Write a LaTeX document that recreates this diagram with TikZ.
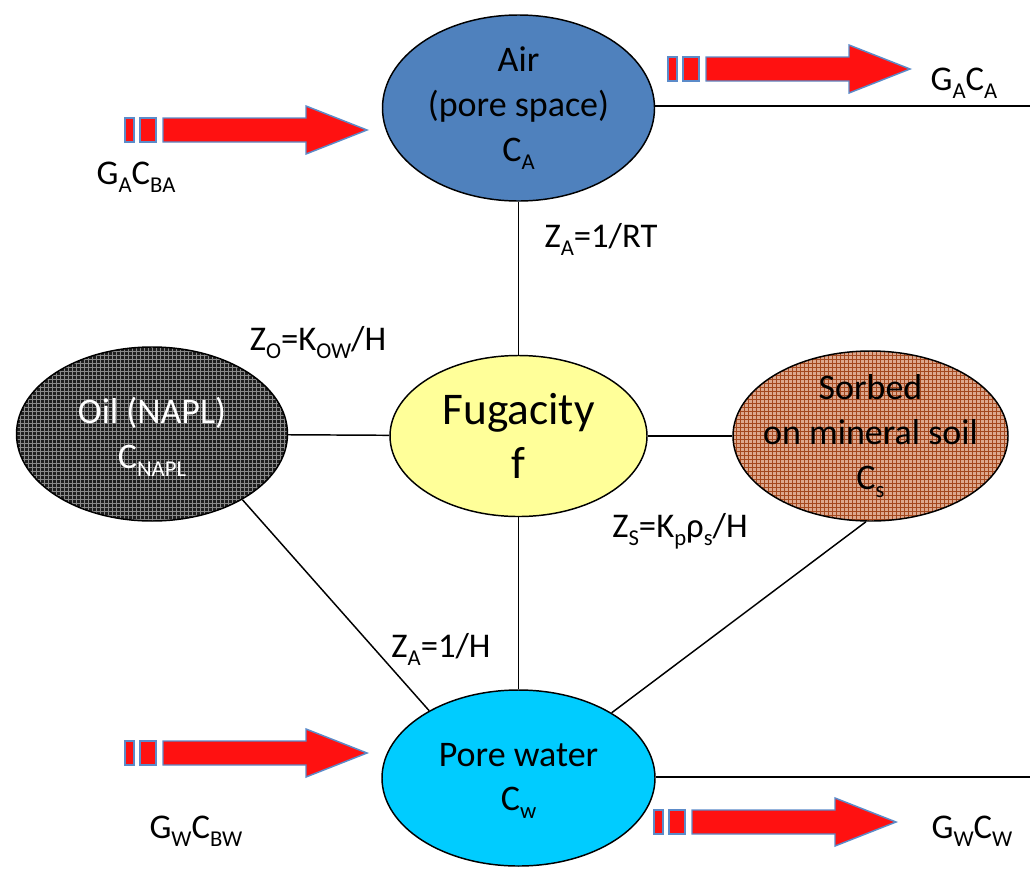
\documentclass[tikz,border=0pt]{standalone}
\usepackage{fontspec}
\setmainfont{Carlito}
\usetikzlibrary{shapes.geometric,patterns}

\definecolor{airblue}{HTML}{4F81BD}
\definecolor{fugyellow}{HTML}{FFFF99}
\definecolor{watercyan}{HTML}{00CCFF}
\definecolor{flowred}{HTML}{FF1111}
\definecolor{flowedge}{HTML}{5B8BC9}
\definecolor{oilbase}{HTML}{1E1E1E}
\definecolor{oilgrid}{HTML}{8A8A8A}
\definecolor{soilbase}{HTML}{DDA88E}
\definecolor{soilgrid}{HTML}{A4481E}

% lowered subscript in text font
\newcommand\lowsub[1]{\raisebox{-6pt}{\fontsize{17}{17}\selectfont #1}}

\begin{document}
\begin{tikzpicture}[x=0.75pt,y=-0.75pt,
  every node/.style={font=\fontsize{27}{33.5}\selectfont},
  phase/.style={ellipse, draw=black, line width=1.1pt, inner sep=0pt},
  txt/.style={align=center},
  eqlabel/.style={anchor=base, inner sep=0pt, font=\fontsize{26}{30}\selectfont},
  link/.style={draw=black, line width=1.1pt},
  flow/.pic={
    \begin{scope}[fill=flowred, draw=flowedge, line width=1.1pt]
      \filldraw (0,-12) rectangle (9,12);
      \filldraw (15,-12) rectangle (31,12);
      \filldraw (38,-12) -- (181,-12) -- (181,-24) -- (242,0)
                -- (181,24) -- (181,12) -- (38,12) -- cycle;
    \end{scope}
  }]
\useasboundingbox (0,0) rectangle (1030,871);

% phases
\node[phase, fill=airblue, minimum width=204pt, minimum height=139.5pt] (air) at (518.5,108) {};
\node[phase, fill=fugyellow, minimum width=192.75pt, minimum height=120.75pt] (fug) at (518.5,436) {};
\node[phase, preaction={fill=oilbase}, pattern=grid, pattern color=oilgrid,
      minimum width=203.25pt, minimum height=130.5pt] (oil) at (152,434) {};
\node[phase, preaction={fill=soilbase}, pattern=grid, pattern color=soilgrid,
      minimum width=206.25pt, minimum height=127.5pt] (soil) at (870.5,436) {};
\node[phase, fill=watercyan, minimum width=204.75pt, minimum height=132pt] (water) at (518.5,778) {};

% phase texts
\node[txt] (airtxt) at (518.5,108) {Air\\(pore space)\\C\lowsub{A}};
\node[txt, font=\fontsize{34}{40}\selectfont] (fugtxt) at (518.5,436) {Fugacity\\f};
\node[txt, text=white] (oiltxt) at (152,437) {Oil (NAPL)\\C\lowsub{NAPL}};
\node[txt] (soiltxt) at (870.5,436) {Sorbed\\on mineral soil\\C\lowsub{s}};
\node[txt] (watertxt) at (518.5,781) {Pore water\\C\lowsub{w}};

% connections
\coordinate (airend) at (1030,106);
\coordinate (waterend) at (1030,777);
\draw[link] (air) -- (fug);
\draw[link] (fug) -- (water);
\draw[link] (oil) -- (fug);
\draw[link] (fug) -- (soil);
\draw[link] (oil.-36) -- (water.143);
\draw[link] (soil.-93) -- (water.35);
\draw[link] (air.east |- airend) -- (airend);
\draw[link] (water.east |- waterend) -- (waterend);

% flux arrows
\pic at (125,130) {flow};
\pic at (668,69) {flow};
\pic at (125,753) {flow};
\pic at (654,822) {flow};

% labels
\node[eqlabel] (gin) at (136,184) {G\lowsub{A}C\lowsub{BA}};
\node[eqlabel] (gout) at (964,90) {G\lowsub{A}C\lowsub{A}};
\node[eqlabel] (za) at (601,247) {Z\lowsub{A}=1/RT};
\node[eqlabel] (zo) at (318,350) {Z\lowsub{O}=K\lowsub{OW}/H};
\node[eqlabel] (zs) at (680,537) {Z\lowsub{S}=K\lowsub{p}ρ\lowsub{s}/H};
\node[eqlabel] (zw) at (441,657) {Z\lowsub{A}=1/H};
\node[eqlabel] (win) at (196,838) {G\lowsub{W}C\lowsub{BW}};
\node[eqlabel] (wout) at (972,838) {G\lowsub{W}C\lowsub{W}};
\end{tikzpicture}
\end{document}
